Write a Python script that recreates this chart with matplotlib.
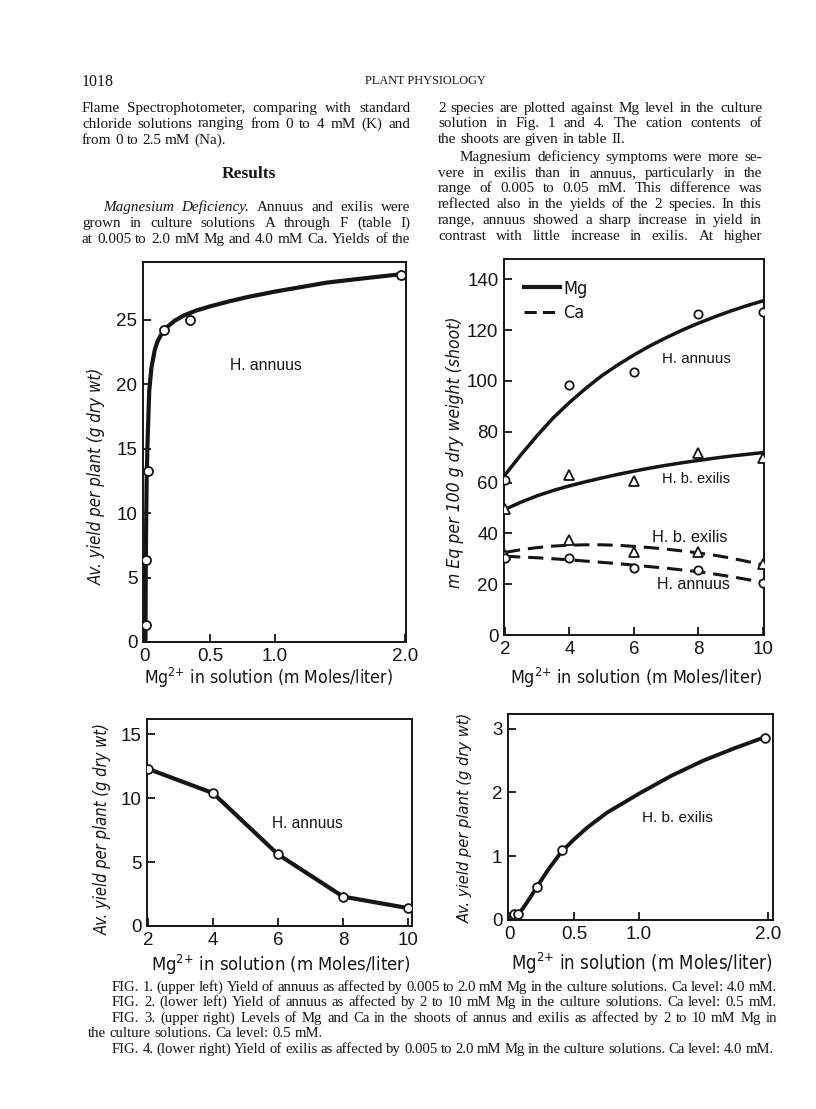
import matplotlib
matplotlib.use("Agg")
import matplotlib.pyplot as plt
from matplotlib import font_manager as fm
from matplotlib.lines import Line2D

# ---------------------------------------------------------------- data
# Fig. 1 (upper left): yield of annuus, 0.005-2.0 mM Mg
fig1_mg = [0.005, 0.01, 0.02, 0.15, 0.35, 1.97]
fig1_yield = [1.3, 6.4, 13.3, 24.2, 25.0, 28.5]
fig1_curve_mg = [0.004, 0.006, 0.009, 0.013, 0.02, 0.033, 0.05, 0.076, 0.1,
                 0.13, 0.17, 0.23, 0.3, 0.4, 0.5, 0.65, 0.8, 1.0, 1.2, 1.4, 1.7, 1.97]
fig1_curve_yield = [0.0, 5.0, 9.0, 12.5, 15.5, 19.5, 21.3, 22.7, 23.4,
                    23.95, 24.45, 24.95, 25.35, 25.75, 26.05, 26.45, 26.8, 27.2, 27.55, 27.9, 28.25, 28.55]
fig1_xticks = [0, 0.5, 1.0, 2.0]
fig1_xticklabels = ["0", "0.5", "1.0", "2.0"]
fig1_yticks = [0, 5, 10, 15, 20, 25]
fig1_yticklabels = ["0", "5", "10", "15", "20", "25"]

# Fig. 2 (lower left): yield of annuus, 2-10 mM Mg
fig2_mg = [2, 4, 6, 8, 10]
fig2_yield = [12.3, 10.4, 5.6, 2.3, 1.4]
fig2_xticks = [2, 4, 6, 8, 10]
fig2_xticklabels = ["2", "4", "6", "8", "10"]
fig2_yticks = [0, 5, 10, 15]
fig2_yticklabels = ["0", "5", "10", "15"]

# Fig. 3 (upper right): Mg and Ca in shoots (mEq / 100 g dry wt)
fig3_mg = [2, 4, 6, 8, 10]
fig3_mg_annuus = [61.0, 98.5, 103.5, 126.5, 127.0]
fig3_mg_exilis = [49.5, 63.0, 60.5, 71.5, 69.5]
fig3_ca_exilis = [31.5, 37.5, 32.5, 32.5, 28.0]
fig3_ca_annuus = [30.5, 30.5, 26.5, 25.5, 20.5]
fig3_curve_mg = [2, 2.5, 3, 3.5, 4, 4.5, 5, 5.5, 6, 6.5, 7, 7.5, 8, 8.5, 9, 9.5, 10]
fig3_curve_mg_annuus = [63, 71, 78.5, 85.5, 91.5, 97, 102, 106.3, 110.2, 113.8,
                        117, 120, 122.7, 125.2, 127.5, 129.6, 131.5]
fig3_curve_mg_exilis = [49.5, 52.3, 54.8, 56.9, 58.7, 60.3, 61.8, 63.2, 64.5, 65.7,
                        66.8, 67.8, 68.7, 69.6, 70.4, 71.1, 71.8]
fig3_curve_ca_exilis = [32.5, 33.6, 34.4, 35.0, 35.35, 35.5, 35.5, 35.3, 34.9, 34.4,
                        33.8, 33.1, 32.3, 31.4, 30.3, 29.0, 27.6]
fig3_curve_ca_annuus = [31.0, 30.7, 30.4, 30.0, 29.6, 29.1, 28.6, 28.1, 27.5, 26.9,
                        26.3, 25.6, 24.9, 24.0, 23.0, 21.9, 20.7]
fig3_xticks = [2, 4, 6, 8, 10]
fig3_xticklabels = ["2", "4", "6", "8", "10"]
fig3_yticks = [0, 20, 40, 60, 80, 100, 120, 140]
fig3_yticklabels = ["0", "20", "40", "60", "80", "100", "120", "140"]

# Fig. 4 (lower right): yield of exilis, 0.005-2.0 mM Mg
fig4_mg = [0.03, 0.06, 0.21, 0.40, 1.98]
fig4_yield = [0.09, 0.09, 0.51, 1.10, 2.86]
fig4_curve_mg = [0.03, 0.05, 0.1, 0.15, 0.2, 0.3, 0.4, 0.5, 0.6, 0.75, 1.0,
                 1.25, 1.5, 1.75, 1.98]
fig4_curve_yield = [0.0, 0.05, 0.18, 0.33, 0.49, 0.8, 1.07, 1.27, 1.45, 1.68, 1.98,
                    2.26, 2.50, 2.70, 2.87]
fig4_xticks = [0, 0.5, 1.0, 2.0]
fig4_xticklabels = ["0", "0.5", "1.0", "2.0"]
fig4_yticks = [0, 1, 2, 3]
fig4_yticklabels = ["0", "1", "2", "3"]

xlabel_text = "Mg$^{2{+}}$ in solution (m Moles/liter)"
ylabel_yield = "Av. yield per plant (g dry wt)"
ylabel_meq = "m Eq per 100 g dry weight (shoot)"

left_lines = [
    "Flame Spectrophotometer, comparing with standard",
    "chloride solutions ranging from 0 to 4 mM (K) and",
    "from 0 to 2.5 mM (Na).",
]
left_lines2 = [
    "Magnesium Deficiency. Annuus and exilis were",
    "grown in culture solutions A through F (table I)",
    "at 0.005 to 2.0 mM Mg and 4.0 mM Ca. Yields of the",
]
right_lines = [
    "2 species are plotted against Mg level in the culture",
    "solution in Fig. 1 and 4. The cation contents of",
    "the shoots are given in table II.",
    "Magnesium deficiency symptoms were more se-",
    "vere in exilis than in annuus, particularly in the",
    "range of 0.005 to 0.05 mM. This difference was",
    "reflected also in the yields of the 2 species. In this",
    "range, annuus showed a sharp increase in yield in",
    "contrast with little increase in exilis. At higher",
]
captions = [
    "FIG. 1. (upper left) Yield of annuus as affected by 0.005 to 2.0 mM Mg in the culture solutions. Ca level: 4.0 mM.",
    "FIG. 2. (lower left) Yield of annuus as affected by 2 to 10 mM Mg in the culture solutions. Ca level: 0.5 mM.",
    "FIG. 3. (upper right) Levels of Mg and Ca in the shoots of annus and exilis as affected by 2 to 10 mM Mg in",
    "the culture solutions. Ca level: 0.5 mM.",
    "FIG. 4. (lower right) Yield of exilis as affected by 0.005 to 2.0 mM Mg in the culture solutions. Ca level: 4.0 mM.",
]

# ---------------------------------------------------------------- setup
INK = "#151515"
W, H = 816, 1109
plt.rcParams["font.family"] = ["Liberation Sans", "DejaVu Sans"]
plt.rcParams["mathtext.default"] = "regular"

fig = plt.figure(figsize=(W / 100, H / 100), dpi=100)
fig.patch.set_facecolor("white")
RND = fig.canvas.get_renderer()

names = {f.name for f in fm.fontManager.ttflist}
if "Liberation Sans Narrow" in names:
    NARROW = dict(family="Liberation Sans Narrow")
elif any(f.name == "DejaVu Sans" and f.stretch == "condensed" for f in fm.fontManager.ttflist):
    NARROW = dict(family="DejaVu Sans", stretch="condensed")
else:
    NARROW = dict(family="Liberation Sans")
SERIF = "Liberation Serif"


def fx(x):
    return x / W


def fy(y):
    return 1 - y / H


def add_axes_px(l, t, r, b):
    return fig.add_axes([l / W, 1 - b / H, (r - l) / W, (b - t) / H])


def fit(t, length, vertical=False):
    bb = t.get_window_extent(RND)
    cur = bb.height if vertical else bb.width
    t.set_fontsize(t.get_fontsize() * length / cur)


def style(ax, xlim, ylim, xt, xtl, yt, ytl):
    ax.set_xlim(*xlim)
    ax.set_ylim(*ylim)
    ax.set_xticks(xt)
    ax.set_xticklabels(xtl)
    ax.set_yticks(yt)
    ax.set_yticklabels(ytl)
    ax.tick_params(direction="in", length=6, width=1.3, colors=INK,
                   labelsize=13.5, pad=4)
    for s in ax.spines.values():
        s.set_linewidth(1.4)
        s.set_color(INK)


def label_text(cx, cy, text, length, vertical=False, italic=False):
    t = fig.text(fx(cx), fy(cy), text, ha="center", va="center",
                 rotation=90 if vertical else 0, color=INK,
                 style="italic" if italic else "normal", fontsize=13, **NARROW)
    fit(t, length, vertical)
    return t


def annot(ax, x, y, text, width):
    t = ax.text(x, y, text, ha="center", va="center", fontsize=12, color=INK)
    fit(t, width)


def text_line(line, x0, x1, y, size, justify=True, italic_words=0, bold=False):
    words = line.split(" ")
    while True:
        ts = []
        for i, w in enumerate(words):
            ts.append(fig.text(0, 0, w, fontsize=size, family=SERIF, color=INK,
                               style="italic" if i < italic_words else "normal",
                               weight="bold" if bold else "normal",
                               ha="left", va="baseline"))
        widths = [t.get_window_extent(RND).width for t in ts]
        space = 0.25 * size * 100 / 72
        if not justify or len(ts) < 2:
            gap = space
            break
        gap = (x1 - x0 - sum(widths)) / (len(ts) - 1)
        if gap >= 0.6 * space or size < 6:
            break
        for t in ts:
            t.remove()
        size *= 0.98
    x = x0
    for t, w in zip(ts, widths):
        t.set_position((fx(x), fy(y)))
        x += w + gap


MK = dict(mfc="white", mec=INK, mew=1.3, ls="none", zorder=4)

# ---------------------------------------------------------------- Fig. 1
ax1 = add_axes_px(143, 262, 406, 642)
ax1.plot(fig1_curve_mg, fig1_curve_yield, color=INK, lw=3.0, solid_capstyle="round",
         solid_joinstyle="round", zorder=3)
ax1.plot(fig1_mg, fig1_yield, marker="o", ms=6.5, **MK)
style(ax1, (-0.015, 2.01), (0, 29.5), fig1_xticks, fig1_xticklabels, fig1_yticks, fig1_yticklabels)
annot(ax1, 0.93, 21.5, "H. annuus", 72)

# ---------------------------------------------------------------- Fig. 3
ax3 = add_axes_px(504, 259, 764, 635)
ax3.plot(fig3_curve_mg, fig3_curve_mg_annuus, color=INK, lw=2.5, solid_joinstyle="round", zorder=3)
ax3.plot(fig3_curve_mg, fig3_curve_mg_exilis, color=INK, lw=2.5, solid_joinstyle="round", zorder=3)
ax3.plot(fig3_curve_mg, fig3_curve_ca_exilis, color=INK, lw=2.2, dashes=(5, 2.6), zorder=3)
ax3.plot(fig3_curve_mg, fig3_curve_ca_annuus, color=INK, lw=2.2, dashes=(5, 2.6), zorder=3)
ax3.plot(fig3_mg, fig3_mg_annuus, marker="o", ms=6.0, **MK)
ax3.plot(fig3_mg, fig3_mg_exilis, marker="^", ms=7.0, **MK)
ax3.plot(fig3_mg, fig3_ca_exilis, marker="^", ms=7.0, **MK)
ax3.plot(fig3_mg, fig3_ca_annuus, marker="o", ms=6.0, **MK)
style(ax3, (1.97, 10.04), (0, 148), fig3_xticks, fig3_xticklabels, fig3_yticks, fig3_yticklabels)
annot(ax3, 7.95, 108.5, "H. annuus", 69)
annot(ax3, 7.94, 61.3, "H. b. exilis", 67)
annot(ax3, 7.72, 38.5, "H. b. exilis", 75)
annot(ax3, 7.85, 20.0, "H. annuus", 73)
handles = [Line2D([], [], color=INK, lw=3.0),
           Line2D([], [], color=INK, lw=2.2, dashes=(4, 2))]
leg = ax3.legend(handles, ["Mg", "Ca"], loc="upper left", bbox_to_anchor=(0.075, 0.945),
                 frameon=False, fontsize=13, handlelength=2.0, handletextpad=0.2,
                 labelspacing=0.35, borderaxespad=0, borderpad=0)
for t in leg.get_texts():
    t.set_color(INK)
    t.set_fontfamily(NARROW["family"])
    if "stretch" in NARROW:
        t.set_fontstretch(NARROW["stretch"])

# ---------------------------------------------------------------- Fig. 2
ax2 = add_axes_px(147, 719, 412, 926)
ax2.plot(fig2_mg, fig2_yield, color=INK, lw=3.0, solid_joinstyle="round", zorder=3)
ax2.plot(fig2_mg, fig2_yield, marker="o", ms=6.3, **MK)
style(ax2, (1.97, 10.12), (0, 16.2), fig2_xticks, fig2_xticklabels, fig2_yticks, fig2_yticklabels)
annot(ax2, 6.9, 8.0, "H. annuus", 71)

# ---------------------------------------------------------------- Fig. 4
ax4 = add_axes_px(508, 714, 773, 920)
ax4.plot(fig4_curve_mg, fig4_curve_yield, color=INK, lw=2.8, solid_joinstyle="round", zorder=3)
ax4.plot(fig4_mg, fig4_yield, marker="o", ms=6.3, **MK)
style(ax4, (-0.015, 2.04), (0, 3.23), fig4_xticks, fig4_xticklabels, fig4_yticks, fig4_yticklabels)
annot(ax4, 1.30, 1.6, "H. b. exilis", 71)

# ---------------------------------------------------------------- axis labels
label_text(269, 678, xlabel_text, 248)
label_text(636, 678, xlabel_text, 252)
label_text(281, 965, xlabel_text, 258)
label_text(642, 963, xlabel_text, 261)
label_text(97, 476, ylabel_yield, 217, vertical=True, italic=True)
label_text(455, 452, ylabel_meq, 271, vertical=True, italic=True)
label_text(103, 829, ylabel_yield, 212, vertical=True, italic=True)
label_text(465, 818, ylabel_yield, 210, vertical=True, italic=True)

# ---------------------------------------------------------------- page text
fig.text(fx(82), fy(86), "1018", fontsize=11.5, family=SERIF, color=INK, ha="left", va="baseline")
fig.text(fx(425), fy(84), "PLANT PHYSIOLOGY", fontsize=8.8, family=SERIF, color=INK,
         ha="center", va="baseline")
fig.text(fx(249), fy(178), "Results", fontsize=12.5, family=SERIF, weight="bold",
         color=INK, ha="center", va="baseline")

BODY = 10.9
lx0, lx1 = 82, 410
left_base = [112, 127.5, 144]
for i, (ln, yb) in enumerate(zip(left_lines, left_base)):
    text_line(ln, lx0, lx1, yb, BODY, justify=(i < len(left_lines) - 1))
left_base2 = [211, 227, 242.5]
for i, (ln, yb) in enumerate(zip(left_lines2, left_base2)):
    text_line(ln, lx0 + (21 if i == 0 else 0), lx1, yb, BODY, justify=True,
              italic_words=2 if i == 0 else 0)

rx0, rx1 = 438, 762
right_base = [112.3, 127.3, 143.3, 161.3, 176.7, 192.3, 208, 224, 239.7]
for i, (ln, yb) in enumerate(zip(right_lines, right_base)):
    text_line(ln, rx0 + (22 if i == 3 else 0), rx1, yb, BODY, justify=(i != 2))

cap_x0 = [112, 112, 112, 88, 112]
cap_x1 = [777, 777, 777, None, 774]
cap_base = [991, 1006, 1022, 1037, 1053]
for ln, x0, x1, yb in zip(captions, cap_x0, cap_x1, cap_base):
    text_line(ln, x0, x1 if x1 else 777, yb, 10.6, justify=x1 is not None)

fig.savefig("out.png", dpi=100, facecolor="white")
